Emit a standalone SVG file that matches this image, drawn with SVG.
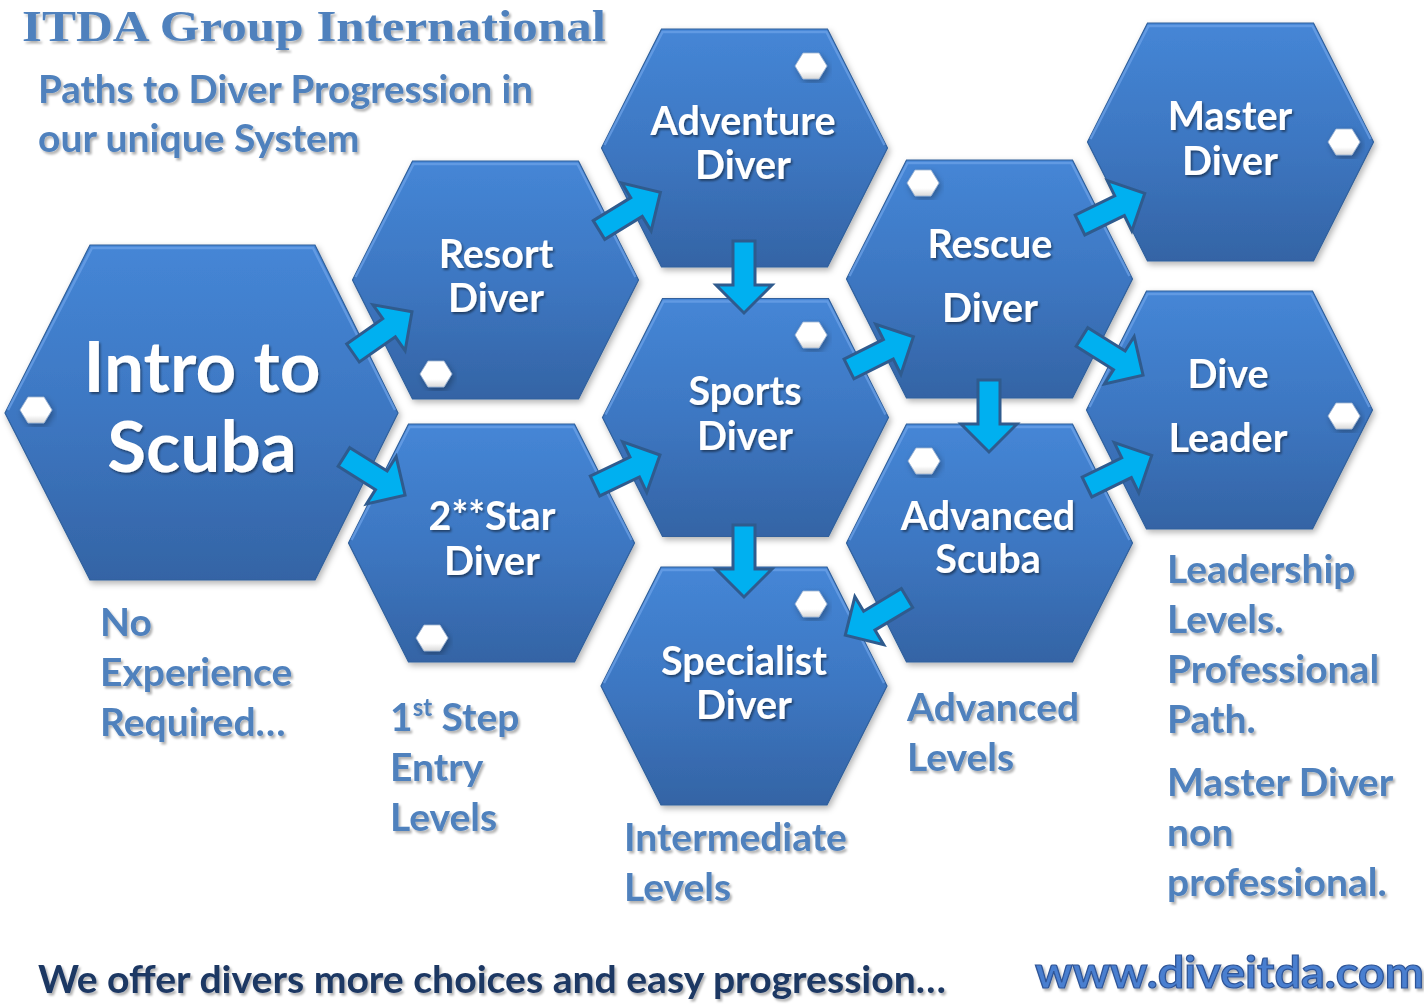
<svg xmlns="http://www.w3.org/2000/svg" xmlns:xlink="http://www.w3.org/1999/xlink" width="1424" height="1004" viewBox="0 0 1424 1004">
<defs>
  <linearGradient id="hexg" x1="0" y1="0" x2="0" y2="1">
    <stop offset="0" stop-color="#4586d6"/>
    <stop offset="0.5" stop-color="#3d77c2"/>
    <stop offset="1" stop-color="#3464a5"/>
  </linearGradient>
  <linearGradient id="badg" x1="0" y1="0" x2="0" y2="1">
    <stop offset="0" stop-color="#ffffff"/>
    <stop offset="0.7" stop-color="#ffffff"/>
    <stop offset="1" stop-color="#d9d9d9"/>
  </linearGradient>
  <filter id="sh" x="-10%" y="-10%" width="125%" height="125%">
    <feDropShadow dx="2" dy="3" stdDeviation="3" flood-color="#000" flood-opacity="0.3"/>
  </filter>
  <filter id="tsh" x="-5%" y="-20%" width="115%" height="150%">
    <feDropShadow dx="1.5" dy="2" stdDeviation="1.2" flood-color="#000" flood-opacity="0.45"/>
  </filter>
  <filter id="lsh" x="-5%" y="-20%" width="115%" height="150%">
    <feDropShadow dx="2" dy="2.5" stdDeviation="1.2" flood-color="#000" flood-opacity="0.3"/>
  </filter>
  <polygon id="hex" points="-83,-119 83,-119 143,0 83,119 -83,119 -143,0"/>
  <polyline id="hexhi" points="-140,-3 -82,-116 82,-116 140,-3"/>
  <polygon id="badge" points="-16,0 -8,-13 8,-13 16,0 8,13 -8,13"/>
  <path id="arr" d="M0,-11 H44 V-28 L72,0 L44,28 V11 H0 Z"/>
  <style>
    .hx { fill: url(#hexg); stroke: #30609c; stroke-width: 1.2; filter: url(#sh); }
    .hi { fill: none; stroke: #6ea3e8; stroke-width: 2.5; stroke-opacity: 0.7; }
    .bd { fill: url(#badg); stroke: #9fb4cf; stroke-width: 0.8; filter: url(#sh); }
    .nt { font-family: Lato, "Open Sans", "Liberation Sans", sans-serif; font-weight: bold; fill: #ffffff; text-anchor: middle; font-size: 39.5px; filter: url(#tsh); }
    .big { font-size: 71px; }
    .lb { font-family: Lato, "Open Sans", "Liberation Sans", sans-serif; font-weight: bold; fill: #4f81bd; font-size: 39px; filter: url(#lsh); }
    .ar { fill: #00b0f0; stroke: #2f5b8e; stroke-width: 3; stroke-linejoin: miter; }
  </style>
</defs>
<rect width="1424" height="1004" fill="#ffffff"/>

<text x="22" y="41" font-family="'Liberation Serif', 'DejaVu Serif', serif" font-weight="bold" font-size="45" fill="#4f81bd" filter="url(#lsh)" textLength="584" lengthAdjust="spacingAndGlyphs">ITDA Group International</text>
<text class="lb" x="38" y="103" textLength="495" lengthAdjust="spacingAndGlyphs">Paths to Diver Progression in</text>
<text class="lb" x="38" y="152">our unique System</text>

<g id="node-intro">
  <polygon class="hx" points="90,245 315,245 398,413 315,580 90,580 5,413"/>
  <polyline class="hi" points="8,410 92,248 313,248 395,410"/>
  <use href="#badge" class="bd" x="36" y="410"/>
  <text class="nt big" x="202" y="392">Intro to</text>
  <text class="nt big" x="202" y="472">Scuba</text>
</g>

<g id="node-resort">
  <use href="#hex" class="hx" x="495.5" y="280"/>
  <use href="#hexhi" class="hi" x="495.5" y="280"/>
  <use href="#badge" class="bd" x="436" y="374"/>
  <text class="nt" x="496" y="268">Resort</text>
  <text class="nt" x="496" y="312">Diver</text>
</g>

<g id="node-2star">
  <use href="#hex" class="hx" x="491.5" y="543"/>
  <use href="#hexhi" class="hi" x="491.5" y="543"/>
  <use href="#badge" class="bd" x="432" y="638"/>
  <text class="nt" x="492" y="530">2**Star</text>
  <text class="nt" x="492" y="575">Diver</text>
</g>

<g id="node-adventure">
  <use href="#hex" class="hx" x="744.5" y="148"/>
  <use href="#hexhi" class="hi" x="744.5" y="148"/>
  <use href="#badge" class="bd" x="811" y="66"/>
  <text class="nt" x="743" y="135">Adventure</text>
  <text class="nt" x="743" y="179">Diver</text>
</g>

<g id="node-sports">
  <use href="#hex" class="hx" x="745.5" y="417.5"/>
  <use href="#hexhi" class="hi" x="745.5" y="417.5"/>
  <use href="#badge" class="bd" x="811" y="335"/>
  <text class="nt" x="745" y="405">Sports</text>
  <text class="nt" x="745" y="450">Diver</text>
</g>

<g id="node-specialist">
  <use href="#hex" class="hx" x="744" y="686"/>
  <use href="#hexhi" class="hi" x="744" y="686"/>
  <use href="#badge" class="bd" x="811" y="604"/>
  <text class="nt" x="744" y="675">Specialist</text>
  <text class="nt" x="744" y="719">Diver</text>
</g>

<g id="node-rescue">
  <use href="#hex" class="hx" x="989.5" y="279"/>
  <use href="#hexhi" class="hi" x="989.5" y="279"/>
  <use href="#badge" class="bd" x="923" y="183"/>
  <text class="nt" x="990" y="258">Rescue</text>
  <text class="nt" x="990" y="322">Diver</text>
</g>

<g id="node-advanced">
  <use href="#hex" class="hx" x="989.5" y="543"/>
  <use href="#hexhi" class="hi" x="989.5" y="543"/>
  <use href="#badge" class="bd" x="924" y="461"/>
  <text class="nt" x="988" y="530">Advanced</text>
  <text class="nt" x="988" y="573">Scuba</text>
</g>

<g id="node-master">
  <use href="#hex" class="hx" x="1230.5" y="142"/>
  <use href="#hexhi" class="hi" x="1230.5" y="142"/>
  <use href="#badge" class="bd" x="1344" y="142"/>
  <text class="nt" x="1230" y="130">Master</text>
  <text class="nt" x="1230" y="175">Diver</text>
</g>

<g id="node-diveleader">
  <use href="#hex" class="hx" x="1229.5" y="410"/>
  <use href="#hexhi" class="hi" x="1229.5" y="410"/>
  <use href="#badge" class="bd" x="1344" y="416"/>
  <text class="nt" x="1228" y="388">Dive</text>
  <text class="nt" x="1228" y="452">Leader</text>
</g>

<g id="connectors">
  <use href="#arr" class="ar" transform="translate(353,353) rotate(-35)"/>
  <use href="#arr" class="ar" transform="translate(344,457) rotate(32)"/>
  <use href="#arr" class="ar" transform="translate(599,230) rotate(-31.5)"/>
  <use href="#arr" class="ar" transform="translate(744,241) rotate(90)"/>
  <use href="#arr" class="ar" transform="translate(595,486) rotate(-25.5)"/>
  <use href="#arr" class="ar" transform="translate(744,525) rotate(90)"/>
  <use href="#arr" class="ar" transform="translate(849,369) rotate(-26.6)"/>
  <use href="#arr" class="ar" transform="translate(989,380) rotate(90)"/>
  <use href="#arr" class="ar" transform="translate(907,598) rotate(149)"/>
  <use href="#arr" class="ar" transform="translate(1087,487) rotate(-26)"/>
  <use href="#arr" class="ar" transform="translate(1080,225) rotate(-26)"/>
  <use href="#arr" class="ar" transform="translate(1082,337) rotate(32)"/>
</g>

<g id="labels">
  <text class="lb" x="100" y="636">No</text>
  <text class="lb" x="100" y="686">Experience</text>
  <text class="lb" x="100" y="736">Required…</text>
  <text class="lb" x="390" y="731">1<tspan font-size="24" dy="-15">st</tspan><tspan dy="15"> Step</tspan></text>
  <text class="lb" x="390" y="781">Entry</text>
  <text class="lb" x="390" y="831">Levels</text>
  <text class="lb" x="624" y="851">Intermediate</text>
  <text class="lb" x="624" y="901">Levels</text>
  <text class="lb" x="907" y="721">Advanced</text>
  <text class="lb" x="907" y="771">Levels</text>
  <text class="lb" x="1167" y="583">Leadership</text>
  <text class="lb" x="1167" y="633">Levels.</text>
  <text class="lb" x="1167" y="683">Professional</text>
  <text class="lb" x="1167" y="733">Path.</text>
  <text class="lb" x="1167" y="796">Master Diver</text>
  <text class="lb" x="1167" y="846">non</text>
  <text class="lb" x="1167" y="896">professional.</text>
</g>

<text x="38" y="993" font-family="Lato, 'Open Sans', 'Liberation Sans', sans-serif" font-weight="bold" font-size="38" fill="#1f3864" filter="url(#lsh)" textLength="908" lengthAdjust="spacingAndGlyphs">We offer divers more choices and easy progression…</text>
<text x="1035" y="988" font-family="Lato, 'Open Sans', 'Liberation Sans', sans-serif" font-weight="bold" font-size="44" fill="#4a7fd0" stroke="#2f5597" stroke-width="1.2" filter="url(#lsh)" textLength="389" lengthAdjust="spacingAndGlyphs">www.diveitda.com</text>
</svg>
